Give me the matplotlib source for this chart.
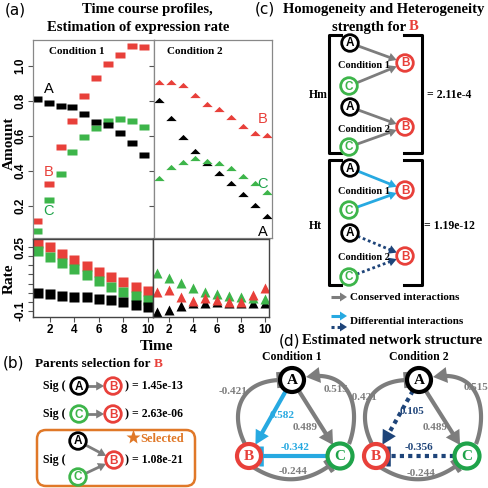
import numpy as np
import matplotlib
matplotlib.use('Agg')
import matplotlib.pyplot as plt
from matplotlib.patches import Circle, Polygon, FancyBboxPatch

# time course data
time = [1, 2, 3, 4, 5, 6, 7, 8, 9, 10]
amount1_A = [0.81, 0.79, 0.771, 0.766, 0.724, 0.678, 0.663, 0.615, 0.558, 0.491]
amount1_B = [0.116, 0.326, 0.535, 0.687, 0.83, 0.933, 1.01, 1.063, 1.114, 1.11]
amount1_C = [0.055, 0.234, 0.381, 0.51, 0.596, 0.644, 0.687, 0.70, 0.687, 0.653]
amount2_A = [0.806, 0.701, 0.596, 0.516, 0.444, 0.387, 0.333, 0.269, 0.206, 0.143]
amount2_B = [0.91, 0.91, 0.891, 0.834, 0.783, 0.753, 0.707, 0.657, 0.619, 0.604]
amount2_C = [0.358, 0.421, 0.453, 0.473, 0.457, 0.444, 0.416, 0.373, 0.333, 0.278]
rate1_A = [0.0, -0.009, -0.016, -0.022, -0.025, -0.033, -0.04, -0.051, -0.067, -0.08]
rate1_B = [0.273, 0.252, 0.212, 0.179, 0.148, 0.115, 0.084, 0.06, 0.033, 0.009]
rate1_C = [0.228, 0.197, 0.161, 0.128, 0.097, 0.064, 0.033, 0.006, -0.018, -0.04]
rate2_A = [-0.104, -0.094, -0.073, -0.058, -0.055, -0.049, -0.055, -0.056, -0.056, -0.058]
rate2_B = [0.006, 0.015, -0.022, -0.044, -0.03, -0.04, -0.049, -0.049, -0.012, 0.024]
rate2_C = [0.106, 0.079, 0.052, 0.024, 0.006, -0.007, -0.016, -0.022, -0.03, -0.036]

amount_ticks = [0.2, 0.4, 0.6, 0.8, 1.0]
rate_ticks = [-0.1, -0.05, 0, 0.05, 0.1, 0.15, 0.2, 0.25]
rate_ticklabels = ['-0.1', '', '', '', '', '', '', '0.25']
time_ticks = [2, 4, 6, 8, 10]

sig_values = ['1.45e-13', '2.63e-06', '1.08e-21']
hm_value = '2.11e-4'
ht_value = '1.19e-12'
w_cond1 = {'BA': '-0.421', 'CA': '0.515', 'AC': '0.489', 'AB': '0.582', 'CB': '-0.342', 'BC': '-0.244'}
w_cond2 = {'BA': '-0.421', 'CA': '0.515', 'AC': '0.489', 'AB': '0.105', 'CB': '-0.356', 'BC': '-0.244'}

RED = '#e8403a'
GREEN = '#3db54a'
GRAY = '#7d7d7d'
BLUE = '#27a9e1'
NAVY = '#1e4479'
ORANGE = '#e07828'
SERIF = 'Liberation Serif'
SANS = 'Liberation Sans'

W, H = 489, 488
fig = plt.figure(figsize=(W / 100, H / 100), dpi=100)


def px_axes(x0, y0, x1, y1):
    return fig.add_axes([x0 / W, 1 - y1 / H, (x1 - x0) / W, (y1 - y0) / H])


a1 = px_axes(33, 40, 154, 238)
a2 = px_axes(154, 40, 272, 238)
r1 = px_axes(33, 239, 153, 317)
r2 = px_axes(153, 239, 269, 317)

rect = [(-1, -0.5), (1, -0.5), (1, 0.5), (-1, 0.5), (-1, -0.5)]
ftri = [(-1, -0.5), (1, -0.5), (0, 0.5), (-1, -0.5)]

a1.plot(time, amount1_B, ls='none', marker=rect, ms=7.5, color=RED, mec='none')
a1.plot(time, amount1_C, ls='none', marker=rect, ms=7.5, color=GREEN, mec='none')
a1.plot(time, amount1_A, ls='none', marker=rect, ms=7.5, color='black', mec='none')
a2.plot(time, amount2_B, ls='none', marker=ftri, ms=7.5, color=RED, mec='none')
a2.plot(time, amount2_A, ls='none', marker=ftri, ms=7.5, color='black', mec='none')
a2.plot(time, amount2_C, ls='none', marker=ftri, ms=7.5, color=GREEN, mec='none')
r1.plot(time, rate1_B, ls='none', marker='s', ms=7.2, color=RED, mec='none')
r1.plot(time, rate1_C, ls='none', marker='s', ms=7.2, color=GREEN, mec='none')
r1.plot(time, rate1_A, ls='none', marker='s', ms=7.2, color='black', mec='none')
r2.plot(time, rate2_A, ls='none', marker='^', ms=7.8, color='black', mec='none')
r2.plot(time, rate2_C, ls='none', marker='^', ms=7.8, color=GREEN, mec='none')
r2.plot(time, rate2_B, ls='none', marker='^', ms=7.8, color=RED, mec='none')

a1.set_xlim(0.69, 10.84)
a2.set_xlim(0.56, 10.44)
r1.set_xlim(0.62, 10.41)
r2.set_xlim(0.64, 10.33)
for ax in (a1, a2):
    ax.set_ylim(0.017, 1.149)
    ax.set_xticks([])
    ax.set_yticks(amount_ticks)
    for s in ax.spines.values():
        s.set_color('#888888')
        s.set_linewidth(0.9)
a1.set_yticklabels([f'{v:.1f}' for v in amount_ticks], rotation=90, va='center',
                   fontsize=8.5, fontweight='bold', family=SANS)
a2.set_yticklabels([])
for ax in (r1, r2):
    ax.set_ylim(-0.133, 0.294)
    ax.set_xticks(time_ticks)
    ax.set_xticklabels([str(v) for v in time_ticks], fontsize=8.5, fontweight='bold', family=SANS)
    for s in ax.spines.values():
        s.set_color('#444444')
        s.set_linewidth(1.0)
r1.set_yticks(rate_ticks)
r1.set_yticklabels(rate_ticklabels, rotation=90, va='center', fontsize=8.5,
                   fontweight='bold', family=SANS)
r2.set_yticks([])
for ax in (a1, a2, r1, r2):
    ax.tick_params(direction='out', length=3.5, width=0.8, color='#555555', pad=1.5)

# overlay in pixel coordinates
ov = fig.add_axes([0, 0, 1, 1])
ov.set_xlim(0, W)
ov.set_ylim(H, 0)
ov.axis('off')
ov.patch.set_alpha(0)
renderer = fig.canvas.get_renderer()


def txt(x, y, s, fs=8, color='black', ha='center', bold=True, family=SERIF, **kw):
    return ov.text(x, y, s, fontsize=fs, color=color, ha=ha, va='center',
                   fontweight='bold' if bold else 'normal', family=family, zorder=6, **kw)


def rich(x, y, parts, fs, center=False):
    widths = []
    for s, c in parts:
        t = txt(0, 0, s, fs=fs)
        widths.append(t.get_window_extent(renderer).width)
        t.remove()
    gap = 3
    if center:
        x -= (sum(widths) + gap * (len(parts) - 1)) / 2
    for (s, c), w in zip(parts, widths):
        txt(x, y, s, fs=fs, color=c, ha='left')
        x += w + gap


def node(x, y, letter, color, r=8.3, lw=2.0, fs=8.5, family=SANS):
    ov.add_patch(Circle((x, y), r, fc='white', ec=color, lw=lw, zorder=4))
    ov.text(x, y + 0.5, letter, color=color, fontsize=fs, fontweight='bold', family=family,
            ha='center', va='center', zorder=5)


def curve(pts, n=80):
    p = np.array(pts, float)
    t = np.linspace(0, 1, n)[:, None]
    if len(p) == 2:
        return (1 - t) * p[0] + t * p[1]
    if len(p) == 3:
        return (1 - t) ** 2 * p[0] + 2 * (1 - t) * t * p[1] + t ** 2 * p[2]
    return ((1 - t) ** 3 * p[0] + 3 * (1 - t) ** 2 * t * p[1]
            + 3 * (1 - t) * t ** 2 * p[2] + t ** 3 * p[3])


def edge(pts, color, end='head', lw=2.0, ls='-', hl=8, hw=4.5, bw=7, blw=None):
    c = curve(pts)
    tip = c[-1]
    d = c[-1] - c[-4]
    u = d / np.hypot(*d)
    nrm = np.array([-u[1], u[0]])
    if end == 'head':
        keep = np.hypot(*(c - tip).T) > hl * 0.75
        ov.plot(c[keep, 0], c[keep, 1], color=color, lw=lw, ls=ls, solid_capstyle='butt', zorder=3)
        ov.add_patch(Polygon([tip, tip - u * hl + nrm * hw, tip - u * hl - nrm * hw],
                             closed=True, color=color, lw=0, zorder=3))
    else:
        ov.plot(c[:, 0], c[:, 1], color=color, lw=lw, ls=ls, solid_capstyle='butt', zorder=3)
        b1, b2 = tip + nrm * bw, tip - nrm * bw
        ov.plot([b1[0], b2[0]], [b1[1], b2[1]], color=color, lw=blw or lw * 1.1,
                solid_capstyle='butt', zorder=3)


def link(p, q, color, r=8.3, **kw):
    p, q = np.array(p, float), np.array(q, float)
    u = (q - p) / np.hypot(*(q - p))
    edge([p + u * r, q - u * (r + 0.5)], color, **kw)


DOT = (0, (1.0, 1.0))

# ---- panel (a) texts
txt(15, 10, '(a)', fs=11, bold=False, family='DejaVu Sans')
txt(147, 10, 'Time course profiles,', fs=10.5)
txt(138, 27, 'Estimation of expression rate', fs=10.5)
txt(49, 52, 'Condition 1', fs=8, ha='left')
txt(167, 52, 'Condition 2', fs=8, ha='left')
txt(9, 143, 'Amount', fs=11, rotation=90)
txt(9, 279, 'Rate', fs=11, rotation=90)
txt(157, 347, 'Time', fs=11)
for x, y, s, c in [(49, 89, 'A', 'black'), (49, 172, 'B', RED), (49, 211, 'C', '#1fa34a'),
                   (263, 119, 'B', RED), (262, 184, 'C', '#1fa34a'), (263, 232, 'A', 'black')]:
    txt(x, y, s, fs=10.5, color=c, family=SANS, bold=False)

# ---- panel (b)
txt(14, 363, '(b)', fs=11, bold=False, family='DejaVu Sans')
rich(35, 364, [('Parents selection for', 'black'), ('B', RED)], fs=9.5)
for y, parent, pc, sig in [(386, 'A', 'black', sig_values[0]), (414, 'C', GREEN, sig_values[1])]:
    txt(43, y, 'Sig (', fs=8.5, ha='left')
    node(79, y, parent, pc)
    node(113, y, 'B', RED)
    link((79, y), (113, y), GRAY)
    txt(125, y, ') = ' + sig, fs=8.5, ha='left')
ov.add_patch(FancyBboxPatch((37, 430), 158, 56, boxstyle='round,pad=0,rounding_size=9',
                            fc='none', ec=ORANGE, lw=1.8, zorder=2))
txt(43, 460, 'Sig (', fs=8.5, ha='left')
node(78, 441, 'A', 'black')
node(78, 477, 'C', GREEN)
node(114, 460, 'B', RED)
link((78, 441), (114, 460), GRAY)
link((78, 477), (114, 460), GRAY)
txt(125, 460, ') = ' + sig_values[2], fs=8.5, ha='left')
ov.plot([133], [437], marker='*', ms=11, color=ORANGE, mec='none', zorder=6)
txt(140, 439, 'Selected', fs=9, color=ORANGE, ha='left')

# ---- panel (c)
txt(265, 9, '(c)', fs=11, bold=False, family='DejaVu Sans')
txt(384, 9, 'Homogeneity and Heterogeneity', fs=10.5)
rich(375, 27, [('strength for', 'black'), ('B', RED)], fs=10.5, center=True)


def bracket(y0, y1):
    ov.plot([341, 329, 329, 341], [y0, y0, y1, y1], color='black', lw=2.2, zorder=3)
    ov.plot([404, 422, 422, 404], [y0, y0, y1, y1], color='black', lw=2.2, zorder=3)


def pair(yA, yB, yC, label, color, ls):
    node(350, yA, 'A', 'black')
    node(349, yC, 'C', GREEN)
    node(405, yB, 'B', RED)
    txt(364, yB + 2, label, fs=7.5)
    link((350, yA), (405, yB), color, ls=ls)
    link((349, yC), (405, yB), color, ls=ls)


bracket(35, 153)
pair(43, 63, 86, 'Condition 1', GRAY, '-')
pair(107, 127, 147, 'Condition 2', GRAY, '-')
txt(318, 95, 'Hm', fs=8.5)
txt(427, 95, '= ' + hm_value, fs=8.5, ha='left')

bracket(160, 285)
pair(168, 190, 210, 'Condition 1', BLUE, '-')
pair(233, 256, 277, 'Condition 2', NAVY, DOT)
txt(315, 226, 'Ht', fs=8.5)
txt(424, 226, '= ' + ht_value, fs=8.5, ha='left')

edge([(331, 297), (347, 297)], GRAY, lw=2.2, hl=7, hw=4.5)
edge([(331, 316), (347, 316)], BLUE, lw=2.2, hl=7, hw=4.5)
edge([(331, 327), (347, 327)], NAVY, lw=2.2, ls=DOT, hl=7, hw=4.5)
txt(350, 297, 'Conserved interactions', fs=8, ha='left')
txt(350, 322, 'Differential interactions', fs=8, ha='left')

# ---- panel (d)
txt(289, 341, '(d)', fs=11, bold=False, family='DejaVu Sans')
txt(302, 341, 'Estimated network structure', fs=10.5, ha='left')


def network(dx, w, ab_color, ab_ls, labels):
    A = np.array([292 + dx, 380])
    B = np.array([249 + dx, 456])
    C = np.array([340 + dx, 456])
    txt(A[0], 357, 'Condition %d' % (1 if dx == 0 else 2), fs=8.5)
    edge([B + (-4, -12), (230 + dx, 415), (238 + dx, 382), (279 + dx, 380)], GRAY,
         end='bar', lw=3, bw=8)
    edge([(349 + dx, 444), (360 + dx, 416), (356 + dx, 368), (306 + dx, 377)], GRAY,
         lw=3, hl=14, hw=8)
    link(A, C, GRAY, r=12.5, lw=3, hl=14, hw=8)
    link(A, B, ab_color, r=12.5, lw=3, ls=ab_ls, hl=14, hw=7.5)
    edge([C - (13, 0), B + (12, 0)], ab_color, end='bar', lw=3, ls=ab_ls, bw=10)
    edge([B + (4, 11), (292 + dx, 492), (329 + dx, 466)], GRAY, end='bar', lw=3, bw=7)
    node(A[0], A[1], 'A', 'black', r=12, lw=3, fs=11, family=SERIF)
    node(B[0], B[1], 'B', RED, r=12, lw=3, fs=11, family=SERIF)
    node(C[0], C[1], 'C', '#1fa34a', r=12.5, lw=3, fs=11, family=SERIF)
    for key, (x, y) in labels.items():
        col = ab_color if key in ('AB', 'CB') else GRAY
        txt(x + dx, y, w[key], fs=8, color=col)


network(0, w_cond1, BLUE, '-',
        {'BA': (233, 391), 'CA': (336, 389), 'AB': (282, 416), 'AC': (305, 427),
         'CB': (295, 447), 'BC': (293, 471)})
network(127, w_cond2, NAVY, DOT,
        {'BA': (236, 398), 'CA': (349, 387), 'AB': (285, 412), 'AC': (308, 427),
         'CB': (292, 447), 'BC': (294, 473)})

fig.savefig('out.png', dpi=100)
